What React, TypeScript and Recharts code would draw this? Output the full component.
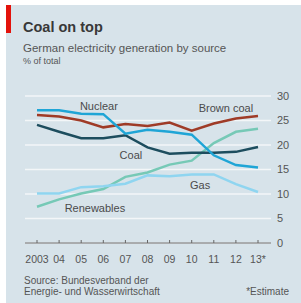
import React from "react";
import { LineChart, Line, XAxis, YAxis, CartesianGrid, ReferenceDot } from "recharts";

const years = [2003, 2004, 2005, 2006, 2007, 2008, 2009, 2010, 2011, 2012, 2013];
const yearLabels = ["2003", "04", "05", "06", "07", "08", "09", "10", "11", "12", "13*"];
const nuclear = [27.1, 27.1, 26.4, 26.3, 22.3, 23.1, 22.7, 22.1, 17.9, 15.9, 15.4];
const brownCoal = [26.1, 25.8, 25.0, 23.6, 24.3, 23.9, 24.6, 22.9, 24.4, 25.4, 25.9];
const coal = [24.1, 22.7, 21.4, 21.4, 22.0, 19.5, 18.2, 18.4, 18.4, 18.6, 19.6];
const gas = [10.1, 10.1, 11.4, 11.6, 12.1, 13.8, 13.6, 14.0, 14.0, 12.0, 10.4];
const renewables = [7.4, 8.9, 10.1, 11.0, 13.5, 14.4, 16.0, 16.8, 20.4, 22.7, 23.3];
const yTicks = [0, 5, 10, 15, 20, 25, 30];

const seriesLabels = [
  { name: "Nuclear", year: 2005.8, value: 28.0 },
  { name: "Brown coal", year: 2011.55, value: 27.6 },
  { name: "Coal", year: 2007.25, value: 18.0 },
  { name: "Gas", year: 2010.38, value: 11.8 },
  { name: "Renewables", year: 2005.62, value: 7.1 },
];

const data = years.map((year, i) => ({
  year,
  nuclear: nuclear[i],
  brownCoal: brownCoal[i],
  coal: coal[i],
  gas: gas[i],
  renewables: renewables[i],
}));

const FONT = "'Liberation Sans', Arial, sans-serif";
const TEXT = "#555";

const XTick = (props: any) => {
  const { x, y, payload } = props;
  const idx = years.indexOf(payload.value);
  return (
    <g>
      <line x1={x} x2={x} y1={y - 3} y2={y} stroke="#666" strokeWidth={1} />
      <text x={x} y={y + 20} textAnchor="middle" fill={TEXT} fontSize={10.5} fontFamily={FONT}>
        {yearLabels[idx]}
      </text>
    </g>
  );
};

export default function App() {
  return (
    <div style={{ position: "absolute", left: 0, top: 0, width: 301, height: 303, background: "#fff", fontFamily: FONT, overflow: "hidden" }}>
      <div style={{ position: "absolute", left: 6, top: 5, width: 295, height: 298, background: "#d7e3ea" }} />
      <div style={{ position: "absolute", left: 6, top: 5, width: 5, height: 28, background: "#e3120b" }} />
      <div style={{ position: "absolute", left: 0, top: 0 }}>
        <LineChart width={301} height={303} data={data} margin={{ top: 96, right: 0, bottom: 30, left: 25 }}>
          <CartesianGrid vertical={false} stroke="#f3f6f8" strokeWidth={1.5} />
          <XAxis
            type="number"
            dataKey="year"
            domain={[2002.457, 2013.588]}
            ticks={years}
            allowDataOverflow
            height={30}
            tickSize={0}
            tickMargin={0}
            tickLine={false}
            axisLine={{ stroke: "#666", strokeWidth: 1 }}
            tick={<XTick />}
            interval={0}
          />
          <YAxis
            orientation="right"
            domain={[0, 30]}
            ticks={yTicks}
            width={30}
            axisLine={false}
            tickLine={false}
            tickSize={0}
            tickMargin={6}
            tick={{ fill: TEXT, fontSize: 11, fontFamily: FONT, textAnchor: "start" }}
          />
          <Line dataKey="renewables" stroke="#76c9b6" strokeWidth={2.5} dot={false} isAnimationActive={false} />
          <Line dataKey="gas" stroke="#8fd5f0" strokeWidth={2.5} dot={false} isAnimationActive={false} />
          <Line dataKey="brownCoal" stroke="#9f3b27" strokeWidth={2.5} dot={false} isAnimationActive={false} />
          <Line dataKey="coal" stroke="#1d4d5e" strokeWidth={2.5} dot={false} isAnimationActive={false} />
          <Line dataKey="nuclear" stroke="#1fa5d6" strokeWidth={2.5} dot={false} isAnimationActive={false} />
          {seriesLabels.map((l) => (
            <ReferenceDot
              key={l.name}
              x={l.year}
              y={l.value}
              r={1}
              fill="none"
              stroke="none"
              label={{ value: l.name, position: "center", fill: "#4a4a4a", fontSize: 11, fontFamily: FONT }}
            />
          ))}
        </LineChart>
      </div>
      <div style={{ position: "absolute", left: 23, top: 20, fontSize: 14.5, lineHeight: "14.5px", fontWeight: "bold", color: "#383838", whiteSpace: "nowrap" }}>
        Coal on top
      </div>
      <div style={{ position: "absolute", left: 23, top: 43, fontSize: 11.5, lineHeight: "11.5px", color: TEXT, whiteSpace: "nowrap" }}>
        German electricity generation by source
      </div>
      <div style={{ position: "absolute", left: 23, top: 57, fontSize: 9, lineHeight: "9px", color: TEXT, whiteSpace: "nowrap" }}>
        % of total
      </div>
      <div style={{ position: "absolute", left: 24, top: 275, fontSize: 10, lineHeight: "11px", color: TEXT, whiteSpace: "nowrap" }}>
        Source: Bundesverband der
        <br />
        Energie- und Wasserwirtschaft
      </div>
      <div style={{ position: "absolute", right: 12, top: 286, fontSize: 10, lineHeight: "11px", color: TEXT, whiteSpace: "nowrap" }}>
        *Estimate
      </div>
    </div>
  );
}
